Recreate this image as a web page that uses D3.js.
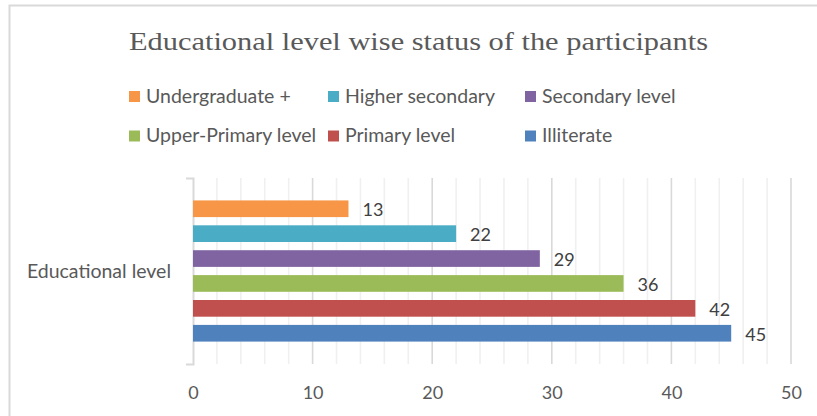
<!DOCTYPE html>
<html lang="en">
<head>
<meta charset="UTF-8">
<title>Educational level wise status of the participants</title>
<script src="https://cdn.jsdelivr.net/npm/d3@7"></script>
<style>
    body { margin: 0; background: #ffffff; }
    svg { display: block; }
</style>
</head>
<body>
<svg id="chart" width="817" height="416"></svg>
<script>
// chart data
const chartTitle = "Educational level wise status of the participants";
const categories = ["Educational level"];
const seriesNames = ["Undergraduate +", "Higher secondary", "Secondary level",
                     "Upper-Primary level", "Primary level", "Illiterate"];
const seriesValues = [13, 22, 29, 36, 42, 45];
const seriesColors = ["#f79646", "#4bacc6", "#8064a2", "#9bbb59", "#c0504d", "#4f81bd"];
const xTickValues = [0, 10, 20, 30, 40, 50];

const sansFont = "Lato, 'Open Sans', sans-serif";
const textGrey = "#595959";

const svg = d3.select("#chart");

// chart frame (runs off the right/bottom edge like the screenshot)
svg.append("rect")
    .attr("x", 9.5).attr("y", 5.5)
    .attr("width", 900).attr("height", 500)
    .attr("fill", "none")
    .attr("stroke", "#d9d9d9")
    .attr("stroke-width", 2);

// title
svg.append("text")
    .attr("x", 129).attr("y", 49.5)
    .attr("textLength", 579)
    .attr("lengthAdjust", "spacingAndGlyphs")
    .style("font-family", "'Liberation Serif', 'DejaVu Serif', serif")
    .style("font-size", "25.5px")
    .attr("fill", textGrey)
    .text(chartTitle);

// legend: 3 columns, 2 rows
const legendCols = [129, 328, 525];
const legendRows = [91, 130.5];
const legend = svg.append("g")
    .selectAll("g")
    .data(seriesNames)
    .join("g")
    .attr("transform", (d, i) => `translate(${legendCols[i % 3]},${legendRows[Math.floor(i / 3)]})`);

legend.append("rect")
    .attr("width", 11).attr("height", 11)
    .attr("fill", (d, i) => seriesColors[i]);

legend.append("text")
    .attr("x", 17).attr("y", 11.5)
    .style("font-family", sansFont)
    .style("font-size", "19.5px")
    .attr("fill", textGrey)
    .text(d => d);

// scales
const plotLeft = 193, plotRight = 791, plotTop = 178, plotBottom = 364;

const x = d3.scaleLinear()
    .domain([0, 50])
    .range([plotLeft, plotRight]);

const yCat = d3.scaleBand()
    .domain(categories)
    .range([plotTop, plotBottom]);

const ySeries = d3.scaleBand()
    .domain(seriesNames)
    .range([0, yCat.bandwidth()])
    .paddingInner(0.33)
    .paddingOuter(0.9);

// minor gridlines (every 2)
svg.append("g")
    .selectAll("line")
    .data(x.ticks(25).filter(v => v % 10 !== 0))
    .join("line")
    .attr("x1", d => x(d)).attr("x2", d => x(d))
    .attr("y1", plotTop).attr("y2", plotBottom)
    .attr("stroke", "#f0f0f0")
    .attr("stroke-width", 1.6);

// major gridlines
svg.append("g")
    .selectAll("line")
    .data(xTickValues.filter(v => v !== 0))
    .join("line")
    .attr("x1", d => x(d)).attr("x2", d => x(d))
    .attr("y1", plotTop).attr("y2", plotBottom)
    .attr("stroke", "#d9d9d9")
    .attr("stroke-width", 1.6);

// category axis (vertical line with outer ticks)
const yAxis = svg.append("g")
    .attr("transform", `translate(${plotLeft},0)`)
    .call(d3.axisLeft(yCat).tickSize(0).tickSizeOuter(7).tickFormat(""));
yAxis.select(".domain")
    .attr("stroke", "#d9d9d9")
    .attr("stroke-width", 2);

svg.append("text")
    .attr("x", 171)
    .attr("y", yCat(categories[0]) + yCat.bandwidth() / 2 + 6.5)
    .attr("text-anchor", "end")
    .style("font-family", sansFont)
    .style("font-size", "19.5px")
    .attr("fill", textGrey)
    .text(categories[0]);

// value axis labels
const xAxis = svg.append("g")
    .attr("transform", `translate(0,${plotBottom})`)
    .call(d3.axisBottom(x).tickValues(xTickValues).tickSize(0).tickPadding(22));
xAxis.select(".domain").remove();
xAxis.selectAll("text")
    .style("font-family", sansFont)
    .style("font-size", "18px")
    .attr("fill", textGrey);

// bars
const bars = svg.append("g")
    .selectAll("g")
    .data(seriesNames.map((name, i) => ({ name: name, value: seriesValues[i], color: seriesColors[i] })))
    .join("g")
    .attr("transform", d => `translate(0,${yCat(categories[0]) + ySeries(d.name)})`);

bars.append("rect")
    .attr("x", x(0))
    .attr("width", d => x(d.value) - x(0))
    .attr("height", ySeries.bandwidth())
    .attr("fill", d => d.color);

// data labels
bars.append("text")
    .attr("x", d => x(d.value) + 14)
    .attr("y", ySeries.bandwidth() / 2 + 7.5)
    .style("font-family", sansFont)
    .style("font-size", "18px")
    .attr("fill", "#404040")
    .text(d => d.value);
</script>
</body>
</html>
